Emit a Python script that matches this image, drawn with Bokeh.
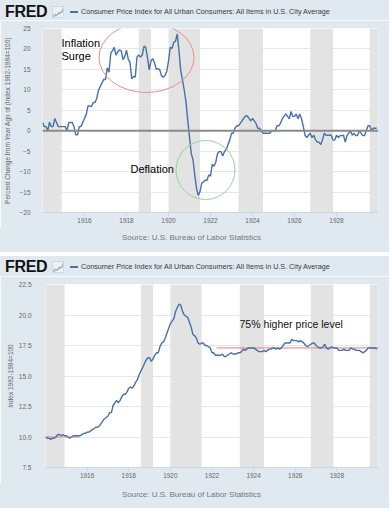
from bokeh.plotting import figure
from bokeh.models import Range1d, FixedTicker, Label, BoxAnnotation, Span, ColumnDataSource, Div
from bokeh.layouts import column
from bokeh.embed import file_html
from bokeh.resources import INLINE

# ---------------- data (monthly, Jan..Dec) ----------------
years = list(range(1914, 1930))

# CPI index level (1982-1984=100)
cpi_1914 = [10.0, 9.9, 9.9, 9.8, 9.9, 9.9, 10.0, 10.2, 10.2, 10.1, 10.2, 10.1]
cpi_1915 = [10.1, 10.0, 9.9, 10.0, 10.1, 10.1, 10.1, 10.1, 10.1, 10.2, 10.3, 10.3]
cpi_1916 = [10.4, 10.4, 10.5, 10.6, 10.7, 10.8, 10.8, 10.9, 11.1, 11.3, 11.5, 11.6]
cpi_1917 = [11.7, 12.0, 12.0, 12.6, 12.8, 13.0, 12.8, 13.0, 13.3, 13.5, 13.5, 13.7]
cpi_1918 = [14.0, 14.1, 14.0, 14.2, 14.5, 14.7, 15.1, 15.4, 15.7, 16.0, 16.3, 16.5]
cpi_1919 = [16.5, 16.2, 16.4, 16.7, 16.9, 16.9, 17.4, 17.7, 17.8, 18.1, 18.5, 18.9]
cpi_1920 = [19.3, 19.5, 19.7, 20.3, 20.6, 20.9, 20.8, 20.3, 20.0, 19.9, 19.8, 19.4]
cpi_1921 = [19.0, 18.4, 18.3, 18.1, 17.7, 17.6, 17.7, 17.7, 17.5, 17.5, 17.4, 17.3]
cpi_1922 = [16.9, 16.9, 16.7, 16.7, 16.7, 16.7, 16.8, 16.6, 16.6, 16.7, 16.8, 16.9]
cpi_1923 = [16.8, 16.8, 16.8, 16.9, 16.9, 17.0, 17.2, 17.1, 17.2, 17.3, 17.3, 17.3]
cpi_1924 = [17.3, 17.2, 17.1, 17.0, 17.0, 17.0, 17.1, 17.0, 17.1, 17.2, 17.2, 17.3]
cpi_1925 = [17.3, 17.2, 17.3, 17.2, 17.3, 17.5, 17.7, 17.7, 17.7, 17.7, 18.0, 17.9]
cpi_1926 = [17.9, 17.9, 17.8, 17.9, 17.8, 17.7, 17.5, 17.4, 17.5, 17.6, 17.7, 17.7]
cpi_1927 = [17.5, 17.4, 17.3, 17.3, 17.4, 17.6, 17.3, 17.2, 17.3, 17.4, 17.3, 17.3]
cpi_1928 = [17.3, 17.1, 17.1, 17.1, 17.2, 17.1, 17.1, 17.1, 17.3, 17.2, 17.2, 17.1]
cpi_1929 = [17.1, 17.1, 17.0, 16.9, 17.0, 17.1, 17.3, 17.3, 17.3, 17.3, 17.3, 17.2]

# Percent change from year ago
yoy_1914 = [2.0, 1.0, 1.0, 0.0, 2.1, 1.0, 1.0, 3.0, 2.0, 1.0, 1.0, 1.0]
yoy_1915 = [1.0, 1.0, 0.0, 2.0, 2.0, 2.0, 1.0, -1.0, -1.0, 1.0, 1.0, 2.0]
yoy_1916 = [3.0, 4.0, 6.1, 6.0, 5.9, 6.9, 6.9, 7.9, 9.9, 10.8, 11.7, 12.6]
yoy_1917 = [12.5, 15.4, 14.3, 18.9, 19.6, 20.4, 18.5, 19.3, 19.8, 19.5, 17.4, 18.1]
yoy_1918 = [19.7, 17.5, 16.7, 12.7, 13.3, 13.1, 18.0, 18.5, 18.0, 18.5, 20.7, 20.4]
yoy_1919 = [17.9, 14.9, 17.1, 17.6, 16.6, 15.0, 15.2, 14.9, 13.4, 13.1, 13.5, 14.5]
yoy_1920 = [17.0, 20.4, 20.1, 21.6, 21.9, 23.7, 19.5, 14.7, 12.4, 9.9, 7.0, 2.6]
yoy_1921 = [-1.6, -5.6, -7.1, -10.8, -14.1, -15.8, -14.9, -12.8, -12.5, -12.1, -12.1, -10.8]
yoy_1922 = [-11.1, -8.2, -8.7, -7.7, -5.6, -5.1, -5.1, -6.2, -5.1, -4.6, -3.4, -2.3]
yoy_1923 = [-0.6, -0.6, 0.6, 1.2, 1.2, 1.8, 2.4, 3.0, 3.6, 3.6, 3.0, 2.4]
yoy_1924 = [3.0, 2.4, 1.8, 0.6, 0.6, 0.0, -0.6, -0.6, -0.6, -0.6, -0.6, 0.0]
yoy_1925 = [0.0, 0.0, 1.2, 1.2, 1.8, 2.9, 3.5, 4.1, 3.5, 2.9, 4.7, 3.5]
yoy_1926 = [3.5, 4.1, 2.9, 4.1, 2.9, 1.1, -1.1, -1.7, -1.1, -0.6, -1.7, -1.1]
yoy_1927 = [-2.2, -2.8, -2.8, -3.4, -2.2, -0.6, -1.1, -1.1, -1.1, -1.1, -2.3, -2.3]
yoy_1928 = [-1.1, -1.7, -1.2, -1.2, -1.1, -2.8, -1.2, -0.6, 0.0, -1.1, -0.6, -1.2]
yoy_1929 = [-1.2, 0.0, -0.6, -1.2, -1.2, 0.0, 1.2, 1.2, 0.0, 0.6, 0.6, 0.6]

# NBER recessions (peak month, trough month)
recession_start = ["1913-01", "1918-08", "1920-01", "1923-05", "1926-10", "1929-08"]
recession_end = ["1914-12", "1919-03", "1921-07", "1924-07", "1927-11", "1933-03"]

x_tick_values = [1916, 1918, 1920, 1922, 1924, 1926, 1928]
x_tick_labels = ["1916", "1918", "1920", "1922", "1924", "1926", "1928"]
top_y_ticks = [-20, -15, -10, -5, 0, 5, 10, 15, 20, 25]
bot_y_ticks = [7.5, 10.0, 12.5, 15.0, 17.5, 20.0, 22.5]
bot_y_labels = ["7.5", "10.0", "12.5", "15.0", "17.5", "20.0", "22.5"]

series_name = "Consumer Price Index for All Urban Consumers: All Items in U.S. City Average"
source_text = "Source: U.S. Bureau of Labor Statistics"
top_y_label = "Percent Change from Year Ago of (Index 1982-1984=100)"
bot_y_label = "Index 1982-1984=100"
level_reference = 17.3   # later price level
level_start = 10.0       # 1914 price level

# ---------------- derived ----------------
cpi_all = []
yoy_all = []
for y in years:
    cpi_all += globals()["cpi_%d" % y]
    yoy_all += globals()["yoy_%d" % y]
dates = [y + m / 12.0 for y in years for m in range(12)]

def ym(s):
    yy, mm = s.split("-")
    return int(yy) + (int(mm) - 1) / 12.0

PANEL = "#e1e9f0"
LINE = "#4572a7"
FONT = "Liberation Sans"
TICK_COL = "#666666"
W = 389

def header_div(h, yc):
    html = (
        f'<div style="position:relative;width:{W}px;height:{h}px;background:{PANEL};'
        f'font-family:\'Liberation Sans\',Arial,sans-serif;overflow:hidden;margin:0;padding:0;">'
        f'<span style="position:absolute;left:5px;top:{yc - 8}px;font-size:16px;line-height:16px;'
        f'font-weight:bold;color:#111111;letter-spacing:-0.3px;">FRED</span>'
        f'<svg style="position:absolute;left:52px;top:{yc - 6}px;" width="12" height="12">'
        f'<rect x="0.5" y="0.5" width="11" height="11" fill="#eef2f6" stroke="#c9d2dc" stroke-width="0.8"/>'
        f'<polyline points="1,10 3,8 5,9 7,6 9,7 11,2.5" fill="none" stroke="#8cbf8c" stroke-width="1"/>'
        f'<polyline points="1,10.5 4,9.5 6,8.5 8,7.5 11,5" fill="none" stroke="#7fa1c9" stroke-width="0.8"/>'
        f'</svg>'
        f'<span style="position:absolute;left:70px;top:{yc - 0.75}px;width:8px;height:1.5px;'
        f'background:{LINE};"></span>'
        f'<span style="position:absolute;left:81px;top:{yc - 4}px;font-size:7.2px;line-height:8px;'
        f'color:#3a3a3a;white-space:nowrap;">{series_name}</span>'
        f'</div>'
    )
    return Div(text=html, width=W, height=h, margin=0)

def footer_div(h, yc):
    html = (
        f'<div style="position:relative;width:{W}px;height:{h}px;background:{PANEL};'
        f'font-family:\'Liberation Sans\',Arial,sans-serif;overflow:hidden;margin:0;padding:0;">'
        f'<span style="position:absolute;left:0px;width:383px;text-align:center;top:{yc - 5}px;'
        f'font-size:8px;line-height:10px;color:#777777;white-space:nowrap;">{source_text}</span>'
        f'</div>'
    )
    return Div(text=html, width=W, height=h, margin=0)

def main_fig(y0, y1, left_border, frame_h):
    p = figure(width=W, height=8 + frame_h + 16, output_backend="svg", toolbar_location=None,
               title=None, x_range=Range1d(1914, 1930), y_range=Range1d(y0, y1),
               min_border_left=left_border, min_border_right=11,
               min_border_top=8, min_border_bottom=16, margin=0)
    p.border_fill_color = PANEL
    p.background_fill_color = "white"
    p.outline_line_color = None
    p.xgrid.grid_line_color = None
    p.ygrid.grid_line_color = "#e6e6e6"
    p.ygrid.grid_line_width = 1
    p.xaxis.ticker = FixedTicker(ticks=x_tick_values)
    p.xaxis.major_label_overrides = {v: l for v, l in zip(x_tick_values, x_tick_labels)}
    p.xaxis.minor_tick_line_color = None
    p.xaxis.axis_line_color = "#ccd6eb"
    p.xaxis.major_tick_line_color = "#ccd6eb"
    p.xaxis.major_tick_out = 4
    p.xaxis.major_tick_in = 0
    p.xaxis.major_label_standoff = 1
    p.xaxis.major_label_text_font_size = "6.5px"
    p.xaxis.major_label_text_color = TICK_COL
    p.xaxis.major_label_text_font = FONT
    p.yaxis.axis_line_color = None
    p.yaxis.major_tick_line_color = None
    p.yaxis.minor_tick_line_color = None
    p.yaxis.major_label_text_font_size = "6.5px"
    p.yaxis.major_label_text_color = TICK_COL
    p.yaxis.major_label_text_font = FONT
    p.yaxis.axis_label_text_font_size = "6.5px"
    p.yaxis.axis_label_text_font_style = "normal"
    p.yaxis.axis_label_text_color = TICK_COL
    p.yaxis.axis_label_text_font = FONT
    for s, e in zip(recession_start, recession_end):
        p.add_layout(BoxAnnotation(left=ym(s), right=ym(e), fill_color="#e3e3e3",
                                   fill_alpha=1.0, line_color=None, level="underlay"))
    return p

# ---------------- top chart ----------------
def tx(px): return 1914 + (px - 42) * 16 / 336.0
def ty(py): return 25 - (py - 28) * 45 / 184.0      # py: page pixel row

p1 = main_fig(-20, 25, 42, 184)
p1.yaxis.ticker = FixedTicker(ticks=top_y_ticks)
p1.yaxis.major_label_standoff = 6
p1.yaxis.axis_label = top_y_label
p1.yaxis.axis_label_standoff = 5
p1.add_layout(Span(location=0, dimension="width", line_color="#8a8a8a", line_width=2))
src1 = ColumnDataSource(dict(x=dates, y=yoy_all))
p1.line("x", "y", source=src1, line_color=LINE, line_width=1.4)
p1.ellipse(x=[tx(146)], y=[ty(57)], width=[95 * 16 / 336.0], height=[70 * 45 / 184.0],
           fill_color=None, line_color="#f08a8a", line_width=1)
p1.ellipse(x=[tx(205)], y=[ty(169.5)], width=[59 * 16 / 336.0], height=[59 * 45 / 184.0],
           fill_color=None, line_color="#93d493", line_width=1)
p1.add_layout(Label(x=tx(61), y=ty(42.5), text="Inflation", text_font=FONT, text_font_size="11px",
                    text_color="black", text_baseline="middle"))
p1.add_layout(Label(x=tx(61), y=ty(55), text="Surge", text_font=FONT, text_font_size="11px",
                    text_color="black", text_baseline="middle"))
p1.add_layout(Label(x=tx(130), y=ty(168.5), text="Deflation", text_font=FONT, text_font_size="11px",
                    text_color="black", text_baseline="middle"))

# ---------------- bottom chart ----------------
def bx(px): return 1914 + (px - 45) * 16 / 333.0
def by(py): return 22.5 - (py - 284) * 15 / 183.0   # py: page pixel row

p2 = main_fig(7.5, 22.5, 45, 183)
p2.yaxis.ticker = FixedTicker(ticks=bot_y_ticks)
p2.yaxis.major_label_overrides = {v: l for v, l in zip(bot_y_ticks, bot_y_labels)}
p2.yaxis.major_label_standoff = 8
p2.yaxis.axis_label = bot_y_label
p2.yaxis.axis_label_standoff = 2
src2 = ColumnDataSource(dict(x=dates, y=cpi_all))
p2.segment(x0=[bx(216)], y0=[level_reference], x1=[bx(383)], y1=[level_reference],
           line_color="#f07a7a", line_width=1)
p2.segment(x0=[bx(43)], y0=[level_start], x1=[bx(79)], y1=[level_start],
           line_color="#f07a8a", line_width=1.2)
p2.line("x", "y", source=src2, line_color=LINE, line_width=1.4)
p2.add_layout(Label(x=bx(239), y=by(323), text="75% higher price level", text_font=FONT,
                    text_font_size="10.5px", text_color="#111111", text_baseline="middle"))

panel1 = column(header_div(20, 12), p1, footer_div(24, 10), spacing=0, margin=0)
panel2 = column(header_div(20, 11), p2, footer_div(25, 12), spacing=0, margin=0)
layout = column(panel1, panel2, spacing=4, margin=0, background="white")
open("out.html", "w").write(file_html(layout, INLINE))
